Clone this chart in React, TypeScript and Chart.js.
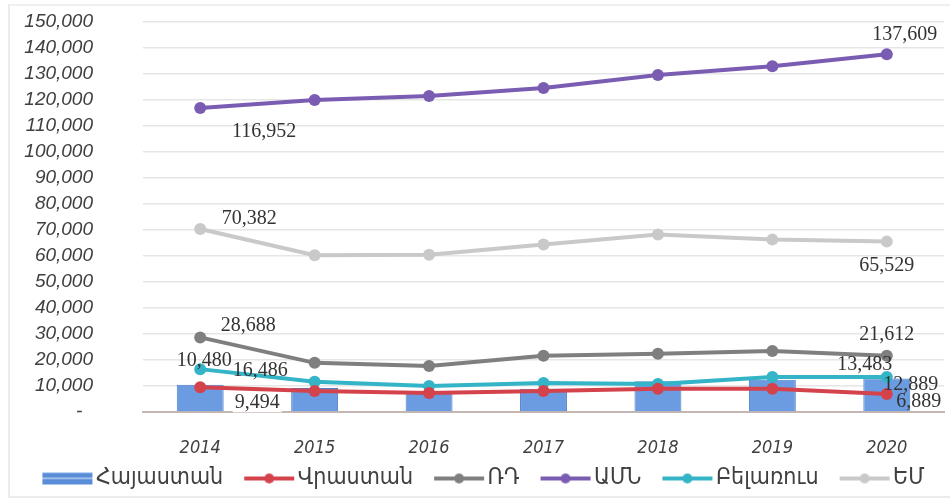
import React, { useEffect, useRef } from 'react';
import { Chart, registerables } from 'chart.js';

Chart.register(...registerables);

// ---- data ----
const years = ['2014', '2015', '2016', '2017', '2018', '2019', '2020'];
const seriesNames = ['Հայաստան', 'Վրաստան', 'ՌԴ', 'ԱՄՆ', 'Բելառուս', 'ԵՄ'];
const armenia = [10480, 9200, 8100, 8900, 11800, 12400, 12889];
const georgia = [9494, 8100, 7300, 8100, 8900, 8900, 6889];
const russia = [28688, 18900, 17700, 21600, 22400, 23500, 21612];
const usa = [116952, 120000, 121500, 124600, 129600, 133000, 137609];
const belarus = [16486, 11600, 10000, 11200, 10800, 13500, 13483];
const eu = [70382, 60300, 60500, 64400, 68300, 66300, 65529];
const yMin = 0;
const yMax = 150000;
const yStep = 10000;

// ---- styles ----
const colors = ['#6b9be0', '#d4434c', '#7f7f7f', '#7a5cb2', '#33b4c7', '#c9c9c9'];

// label placement: dataset index, point index, offset from mark
const labelSpecs = [
  { ds: 3, i: 6, dx: 18, dy: -19 },
  { ds: 3, i: 0, dx: 64, dy: 24 },
  { ds: 5, i: 0, dx: 49, dy: -10 },
  { ds: 5, i: 6, dx: 0, dy: 24 },
  { ds: 2, i: 0, dx: 48, dy: -12 },
  { ds: 2, i: 6, dx: 0, dy: -21 },
  { ds: 0, i: 0, dx: 4, dy: -24 },
  { ds: 4, i: 0, dx: 60, dy: 2 },
  { ds: 1, i: 0, dx: 57, dy: 15, bg: true },
  { ds: 4, i: 6, dx: -22, dy: -12 },
  { ds: 0, i: 6, dx: 24, dy: 6 },
  { ds: 1, i: 6, dx: 32, dy: 8 },
];

const seriesValues = [armenia, georgia, russia, usa, belarus, eu];

// legend icon: transparent left margin so items are spaced like the original
const ICON_P = 53;
const ICON_W = ICON_P + 20;
function makeLegendIcon(color: string, isBar: boolean): HTMLCanvasElement {
  const c = document.createElement('canvas');
  c.width = ICON_W;
  c.height = 14;
  const g = c.getContext('2d')!;
  const x0 = 21;
  const x1 = ICON_W - 2;
  if (isBar) {
    g.fillStyle = '#5a8dd8';
    g.fillRect(x0, 1, x1 - x0, 12);
    g.fillStyle = '#b5cff2';
    g.fillRect(x0, 6, x1 - x0, 1.5);
    g.fillStyle = '#7eaae6';
    g.fillRect(x0, 1, x1 - x0, 1);
  } else {
    g.strokeStyle = color;
    g.lineWidth = 4;
    g.beginPath();
    g.moveTo(x0, 7);
    g.lineTo(x1, 7);
    g.stroke();
    g.fillStyle = color;
    g.beginPath();
    g.arc((x0 + x1) / 2, 7, 5, 0, Math.PI * 2);
    g.fill();
  }
  return c;
}

const labelPlugin = {
  id: 'valueLabels',
  afterDatasetsDraw(chart: any) {
    const ctx = chart.ctx;
    ctx.save();
    ctx.font = '20px "Liberation Serif", serif';
    ctx.textAlign = 'center';
    ctx.textBaseline = 'middle';
    for (const s of labelSpecs) {
      const meta = chart.getDatasetMeta(s.ds);
      const el = meta.data[s.i];
      if (!el) continue;
      const v = chart.data.datasets[s.ds].data[s.i] as number;
      const text = v.toLocaleString('en-US');
      const x = el.x + s.dx;
      const y = el.y + s.dy;
      if ((s as any).bg) {
        const w = ctx.measureText(text).width;
        ctx.fillStyle = '#ffffff';
        ctx.fillRect(x - w / 2 - 2, y - 10, w + 4, 20);
      }
      ctx.fillStyle = '#333333';
      ctx.fillText(text, x, y);
    }
    ctx.restore();
  },
};

export default function App() {
  const ref = useRef<HTMLCanvasElement | null>(null);

  useEffect(() => {
    if (!ref.current) return;
    const icons = seriesNames.map((_, k) => makeLegendIcon(colors[k], k === 0));
    const datasets: any[] = seriesNames.map((name, k) => {
      if (k === 0) {
        return {
          type: 'bar',
          label: name,
          data: seriesValues[k],
          backgroundColor: '#6b9be0',
          borderColor: '#4f80c8',
          borderWidth: 1,
          barPercentage: 0.82,
          categoryPercentage: 0.5,
          order: 10,
        };
      }
      return {
        type: 'line',
        label: name,
        data: seriesValues[k],
        borderColor: colors[k],
        backgroundColor: colors[k],
        borderWidth: 4,
        pointRadius: 6,
        pointHoverRadius: 6,
        pointBorderWidth: 0,
        tension: 0,
        order: 0,
      };
    });

    const chart = new Chart(ref.current, {
      type: 'bar',
      data: { labels: years, datasets },
      plugins: [labelPlugin],
      options: {
        animation: false,
        responsive: false,
        maintainAspectRatio: false,
        layout: { padding: { left: 8, right: 2, top: 22, bottom: 0 } },
        plugins: {
          tooltip: { enabled: false },
          legend: {
            position: 'bottom',
            labels: {
              usePointStyle: true,
              pointStyleWidth: ICON_P,
              padding: 10,
              color: '#404040',
              font: { family: '"DejaVu Sans Condensed", "DejaVu Sans", sans-serif', size: 23 },
              generateLabels: (ch: any) =>
                ch.data.datasets.map((d: any, k: number) => ({
                  text: d.label,
                  fillStyle: colors[k],
                  strokeStyle: colors[k],
                  lineWidth: 0,
                  pointStyle: icons[k],
                  hidden: false,
                  datasetIndex: k,
                  fontColor: '#404040',
                })),
            },
          },
        },
        scales: {
          x: {
            grid: { display: false, drawTicks: false },
            border: { display: true, color: '#c4b6b2', width: 2 },
            afterFit: (scale: any) => {
              scale.height = 45;
              scale.paddingLeft = 0;
              scale.paddingRight = 0;
            },
            ticks: {
              padding: 26,
              color: '#404040',
              font: { family: '"DejaVu Sans Condensed", sans-serif', size: 18, style: 'italic' },
            },
          },
          y: {
            min: yMin,
            max: yMax,
            afterFit: (scale: any) => {
              scale.width = 135;
              scale.paddingTop = 0;
              scale.paddingBottom = 0;
            },
            grid: { color: '#e6e6e6', lineWidth: 1.5, drawTicks: false },
            border: { display: false },
            ticks: {
              stepSize: yStep,
              autoSkip: false,
              padding: 50,
              color: '#404040',
              font: { family: '"Liberation Sans", sans-serif', size: 19, style: 'italic' },
              callback: (v: any) => (v === 0 ? '-  ' : Number(v).toLocaleString('en-US')),
            },
          },
        },
      } as any,
    });
    return () => chart.destroy();
  }, []);

  return (
    <div style={{ position: 'absolute', left: 0, top: 0, width: 950, height: 500, background: '#fff' }}>
      <canvas ref={ref} width={950} height={500} style={{ width: 950, height: 500, display: 'block' }} />
      <div
        style={{
          position: 'absolute',
          left: 8,
          top: 4,
          width: 960,
          height: 490,
          borderLeft: '2px solid #ececec',
          borderTop: '2px solid #f0f0f0',
          borderBottom: '2px solid #ececec',
          pointerEvents: 'none',
        }}
      />
    </div>
  );
}
